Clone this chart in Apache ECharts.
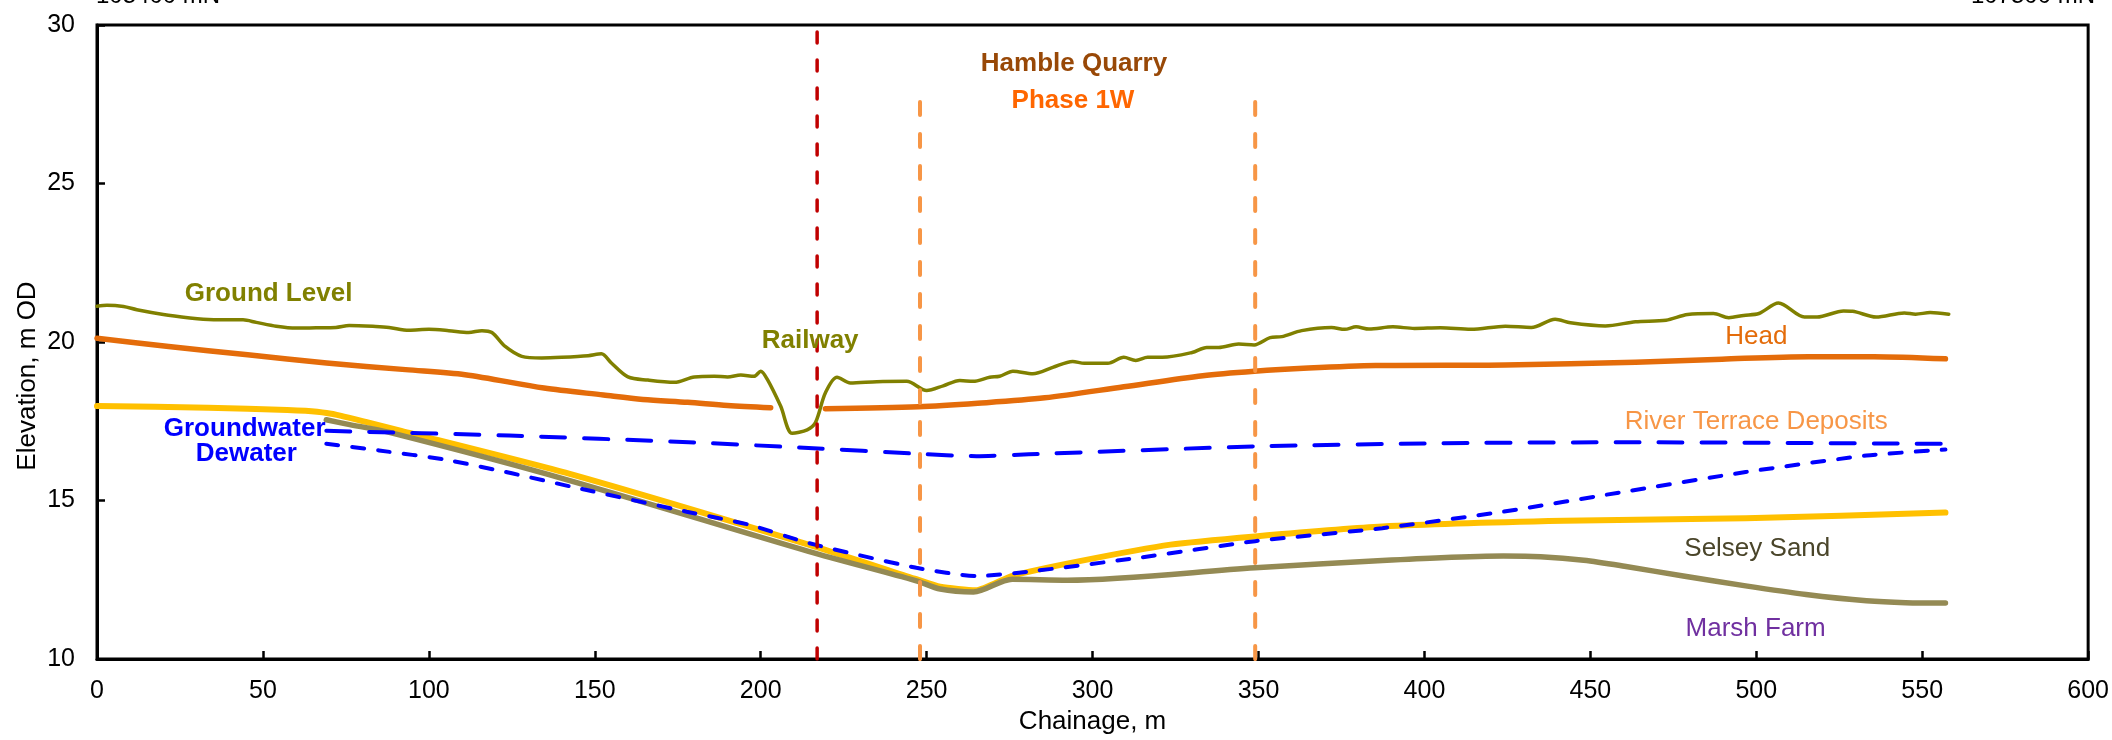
<!DOCTYPE html>
<html><head><meta charset="utf-8">
<script src="https://cdn.jsdelivr.net/npm/echarts@6/dist/echarts.min.js"></script>
<style>html,body{margin:0;padding:0;background:#fff}#c{width:2112px;height:740px}</style>
</head><body><div id="c"></div>
<script>
// ---- data (chainage m, elevation m OD) ----
const groundLevel = [[0,21.13],[3,21.16],[8,21.12],[12,21.02],[20,20.87],[28,20.76],[32,20.72],[38,20.70],[44,20.70],[48,20.62],[54,20.50],[60,20.44],[66,20.45],[72,20.46],[76,20.52],[84,20.49],[88,20.46],[94,20.37],[100,20.40],[106,20.36],[112,20.30],[116,20.36],[119,20.30],[123,19.86],[128,19.55],[134,19.50],[140,19.52],[148,19.57],[152,19.63],[155,19.34],[160,18.90],[166,18.80],[174,18.73],[180,18.90],[186,18.92],[190,18.90],[194,18.96],[198,18.92],[200,19.08],[202,18.82],[206,17.98],[209.5,17.12],[214,17.23],[216.5,17.46],[219.5,18.40],[223,18.89],[227,18.71],[235,18.75],[244,18.76],[250,18.47],[255,18.62],[260,18.79],[264,18.76],[269,18.89],[272,18.92],[276,19.08],[282,19.0],[288,19.2],[294,19.39],[297.5,19.33],[304.6,19.33],[309.4,19.52],[313,19.42],[316.6,19.52],[321,19.52],[330,19.67],[334.4,19.83],[338,19.83],[344,19.94],[348.7,19.91],[353.5,20.14],[357,20.17],[363,20.36],[372,20.46],[376,20.40],[379.4,20.48],[383.3,20.41],[390.5,20.48],[397,20.43],[404.8,20.45],[414,20.40],[424.4,20.50],[432.2,20.46],[439.4,20.72],[444,20.61],[454.5,20.51],[463.6,20.64],[472.8,20.69],[479.3,20.87],[487.1,20.90],[491.7,20.77],[496.2,20.84],[500.8,20.90],[506.7,21.23],[514.5,20.79],[518.3,20.79],[526.3,20.98],[529,20.97],[536.1,20.79],[544.6,20.92],[548,20.88],[552.4,20.93],[558,20.88]];
const headWest = [[0,20.12],[21.6,19.86],[45.4,19.60],[69.2,19.34],[93,19.13],[110.9,18.97],[134.7,18.55],[152.6,18.33],[164.5,18.19],[178,18.10],[190,18.00],[203,17.93]];
const headEast = [[219.5,17.90],[247.5,17.96],[265.4,18.07],[285.6,18.24],[309.4,18.59],[333.2,18.94],[348.7,19.08],[365,19.18],[385.3,19.26],[424.4,19.28],[463.6,19.36],[489.7,19.46],[515.8,19.54],[535.4,19.54],[557,19.47]];
const riverTerraceBase = [[0,17.98],[33.5,17.93],[57.3,17.86],[62.8,17.83],[69.2,17.76],[73.6,17.67],[81,17.48],[91.7,17.20],[142.2,15.85],[214.4,13.61],[246.9,12.52],[254.1,12.28],[264.8,12.17],[275.6,12.62],[296.1,13.09],[323.5,13.61],[349,13.87],[387.3,14.18],[442,14.36],[496.8,14.44],[557,14.62]];
const selseySand = [[69.1,17.55],[75,17.42],[88.1,17.15],[142.2,15.64],[214.4,13.40],[246.9,12.47],[254.1,12.21],[264.1,12.12],[275.8,12.52],[292.4,12.49],[349,12.88],[387.3,13.11],[405,13.20],[423.8,13.25],[435,13.23],[448,13.12],[460.3,12.93],[478,12.62],[496.8,12.31],[515,12.04],[533.2,11.84],[545,11.78],[557,11.77]];
const groundwater = [[69.1,17.20],[124.2,17.05],[178.3,16.84],[214.4,16.66],[246.9,16.48],[265,16.40],[280.8,16.46],[349,16.71],[405.5,16.81],[460.3,16.84],[557,16.79]];
const dewater = [[69.1,16.79],[85,16.58],[105,16.29],[125,15.86],[145,15.39],[177.7,14.65],[196.4,14.24],[214.4,13.66],[246.9,12.88],[265,12.62],[280,12.75],[314.3,13.20],[349,13.72],[387.3,14.13],[423.8,14.65],[460.3,15.28],[496.8,15.90],[533.2,16.42],[557,16.61]];
const railwayChainage = 217;
const phaseBoundaries = [248, 349];
const phaseLineTop = 28;
const xTicks = [0, 600, 50];   // min, max, interval
const yTicks = [10, 30, 5];
const labelTexts = ['Ground Level','Railway','Hamble Quarry','Phase 1W','Head','River Terrace Deposits','Groundwater','Dewater','Selsey Sand','Marsh Farm'];
const labelChainage = [51.7, 214.9, 294.4, 294.1, 500, 500, 44.5, 45, 500.3, 499.8];
const labelElevation = [21.51, 20.04, 28.77, 27.60, 20.18, 17.48, 17.27, 16.48, 13.49, 10.96];
const cornerTexts = ['105400 mN', '107500 mN'];

// ---- styles ----
const labelColors = ['#808000','#808000','#984807','#FF6600','#E46C0A','#F79646','#0000FF','#0000FF','#4A452A','#7030A0'];
const labelBold = [true,true,true,true,false,false,true,true,false,false];
const FONT = '"Liberation Sans", Arial, Helvetica, sans-serif';

const chart = echarts.init(document.getElementById('c'), null, {renderer:'canvas'});

function lineSeries(data, color, width, extra) {
  return Object.assign({
    type:'line', data:data, showSymbol:false, symbol:'none', smooth:0.3,
    silent:true, animation:false,
    lineStyle:{color:color, width:width, cap:'round', join:'round'}
  }, extra||{});
}
function vline(x, top, color, width, dash) {
  return {type:'line', data:[[x, yTicks[0]],[x, top]], showSymbol:false, symbol:'none', silent:true, animation:false,
    lineStyle:{color:color, width:width, type:dash, cap:'round'}};
}

const series = [
  lineSeries(groundLevel, '#808000', 3.5),
  lineSeries(headWest, '#E46C0A', 5.5),
  lineSeries(headEast, '#E46C0A', 5.5),
  lineSeries(riverTerraceBase, '#FFC000', 6, {smooth:0.2}),
  lineSeries(selseySand, '#948A54', 5.5, {smooth:0.3}),
  lineSeries(groundwater, '#0000FF', 4, {smooth:0.2, lineStyle:{color:'#0000FF', width:4, type:[24,19], cap:'round'}}),
  lineSeries(dewater, '#0000FF', 4, {smooth:0.2, lineStyle:{color:'#0000FF', width:4, type:[12,14], cap:'round'}}),
  vline(railwayChainage, yTicks[1], '#C00000', 3.5, [11,17]),
  vline(phaseBoundaries[0], phaseLineTop, '#F79646', 4, [13,19]),
  vline(phaseBoundaries[1], phaseLineTop, '#F79646', 4, [13,19])
];

const staticGraphics = [
  {type:'text', x:28, y:376, rotation:Math.PI/2, silent:true,
   style:{text:'Elevation, m OD', fill:'#000', font:'26px '+FONT, align:'center', verticalAlign:'middle', textAlign:'center', textVerticalAlign:'middle'}},
  {type:'text', x:96, y:8, silent:true,
   style:{text:cornerTexts[0], fill:'#000', font:'24px '+FONT, align:'left', verticalAlign:'bottom', textAlign:'left', textVerticalAlign:'bottom'}},
  {type:'text', x:2095, y:8, silent:true,
   style:{text:cornerTexts[1], fill:'#000', font:'24px '+FONT, align:'right', verticalAlign:'bottom', textAlign:'right', textVerticalAlign:'bottom'}}
];

chart.setOption({
  backgroundColor:'#fff',
  animation:false,
  grid:{left:97, right:22, top:25, bottom:74, show:true, borderColor:'#000', borderWidth:3, backgroundColor:'transparent'},
  xAxis:{
    type:'value', min:xTicks[0], max:xTicks[1], interval:xTicks[2],
    name:'Chainage, m', nameLocation:'middle', nameGap:48,
    nameTextStyle:{fontSize:26, color:'#000', fontFamily:FONT},
    axisLine:{show:true, lineStyle:{color:'#000', width:3}},
    axisTick:{show:true, inside:true, length:8, lineStyle:{color:'#000', width:2.5}},
    axisLabel:{fontSize:25, color:'#000', fontFamily:FONT, margin:20},
    splitLine:{show:false}
  },
  yAxis:{
    type:'value', min:yTicks[0], max:yTicks[1], interval:yTicks[2],
    axisLine:{show:true, lineStyle:{color:'#000', width:3}},
    axisTick:{show:true, inside:true, length:8, lineStyle:{color:'#000', width:2.5}},
    axisLabel:{fontSize:25, color:'#000', fontFamily:FONT, margin:22},
    splitLine:{show:false}
  },
  graphic:staticGraphics,
  series:series
});

// annotation labels placed through the chart's own coordinate system
const labelGraphics = labelTexts.map((t,i)=>{
  const p = chart.convertToPixel({gridIndex:0}, [labelChainage[i], labelElevation[i]]);
  return {type:'text', x:p[0], y:p[1], silent:true, z:100,
    style:{text:t, fill:labelColors[i], font:(labelBold[i]?'bold ':'')+'26px '+FONT,
      align:'center', verticalAlign:'middle', textAlign:'center', textVerticalAlign:'middle'}};
});
chart.setOption({graphic: staticGraphics.concat(labelGraphics)});
</script>
</body></html>
